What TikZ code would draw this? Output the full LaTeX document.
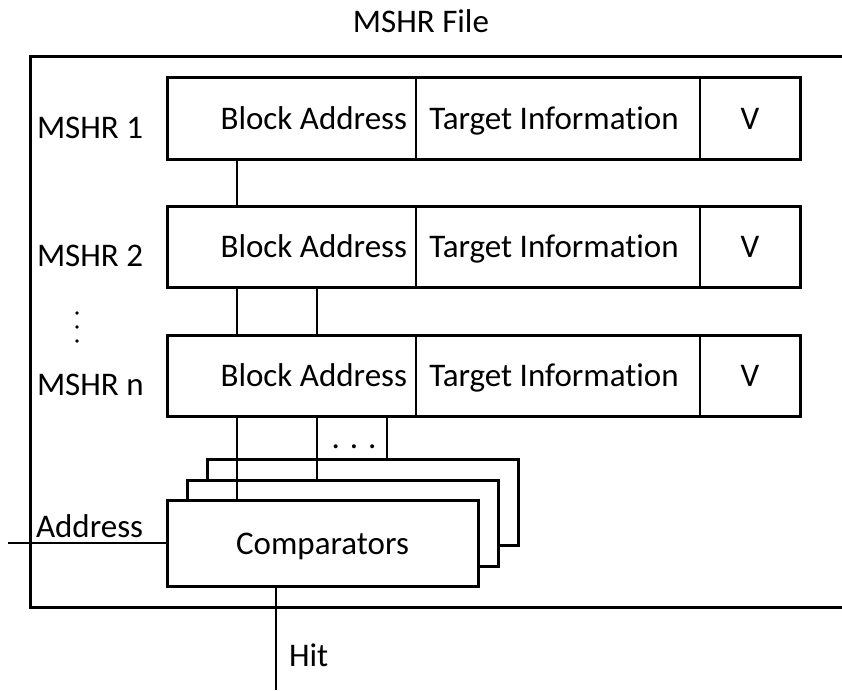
\documentclass[tikz,border=0pt]{standalone}
\usepackage{fontspec}
\setmainfont[RawFeature=-liga]{Carlito}
\begin{document}
\begin{tikzpicture}[x=1pt,y=-1pt,
  txt/.style={font=\fontsize{33}{40}\selectfont, inner sep=0pt, outer sep=0pt},
  cell/.style={draw, line width=1.5pt, inner sep=0pt, outer sep=0pt, minimum height=81pt, anchor=north west},
  rowline/.style={line width=3pt},
  outerbox/.style={draw, line width=3pt, inner sep=0pt, outer sep=0pt, anchor=north west},
  cmpbox/.style={draw, line width=3pt, fill=white, inner sep=0pt, outer sep=0pt,
                 minimum width=311pt, minimum height=86pt, anchor=north west},
  link/.style={line width=2pt},
  wire/.style={line width=1.3pt}]
\useasboundingbox (0,0) rectangle (842,690);

% title and the enclosing file box
\node[txt, anchor=base] (title) at (421,33) {MSHR File};
\node[outerbox, minimum width=840pt, minimum height=550pt] (file) at (30,57) {};

% the MSHR entries
\foreach \i/\t/\lab in {1/78/MSHR 1, 2/206/MSHR 2, n/335/MSHR n}{
  \node[cell, minimum width=249pt] (ba\i) at (167,\t) {};
  \node[cell, minimum width=284pt] (ti\i) at (ba\i.north east) {};
  \node[cell, minimum width=100pt] (v\i) at (ti\i.north east) {};
  \draw[rowline] (ba\i.north west) rectangle (v\i.south east);
  \node[txt, anchor=base east] (bat\i) at ([shift={(-9,11)}]ba\i.east) {Block Address};
  \node[txt, anchor=base] (tit\i) at ([shift={(-4,11)}]ti\i.center) {Target Information};
  \node[txt, anchor=base] (vt\i) at ([shift={(0,11)}]v\i.center) {V};
  \node[txt, anchor=base west] (lab\i) at (37,\t+60) {\lab};
}

% vertical ellipsis between the entry labels
\foreach \y in {313,327,341} \fill (77,\y) circle (1.9);

% comparator stack
\node[cmpbox] (cmp3) at (207,459) {};
\node[cmpbox] (cmp2) at (187,480) {};
\node[cmpbox] (cmp1) at (167,500) {};
\node[txt, anchor=base] (cmptxt) at ([yshift=-11pt]cmp1.center) {Comparators};

% block address lines between entries and into the comparators
\draw[link] ([xshift=70pt]ba1.south west) -- ([xshift=70pt]ba2.north west);
\draw[link] ([xshift=70pt]ba2.south west) -- ([xshift=70pt]ban.north west);
\draw[link] ([xshift=150pt]ba2.south west) -- ([xshift=150pt]ban.north west);
\draw[link] ([xshift=70pt]ban.south west) -- ([xshift=70pt]ban.south west |- cmp1.north);
\draw[link] ([xshift=150pt]ban.south west) -- ([xshift=150pt]ban.south west |- cmp2.north);
\draw[link] ([xshift=220pt]ban.south west) -- ([xshift=220pt]ban.south west |- cmp3.north);
\node[txt, anchor=base] (more) at (354,448) {. . .};

% address input and hit output
\coordinate (addrin) at (8,543);
\draw[wire] (addrin) -- (cmp1.west);
\node[txt, anchor=base west] (addr) at (36,537) {Address};
\coordinate (hitout) at (276,690);
\draw[wire] (hitout |- cmp1.south) -- (hitout);
\node[txt, anchor=base west] (hit) at (289,666) {Hit};
\end{tikzpicture}
\end{document}
